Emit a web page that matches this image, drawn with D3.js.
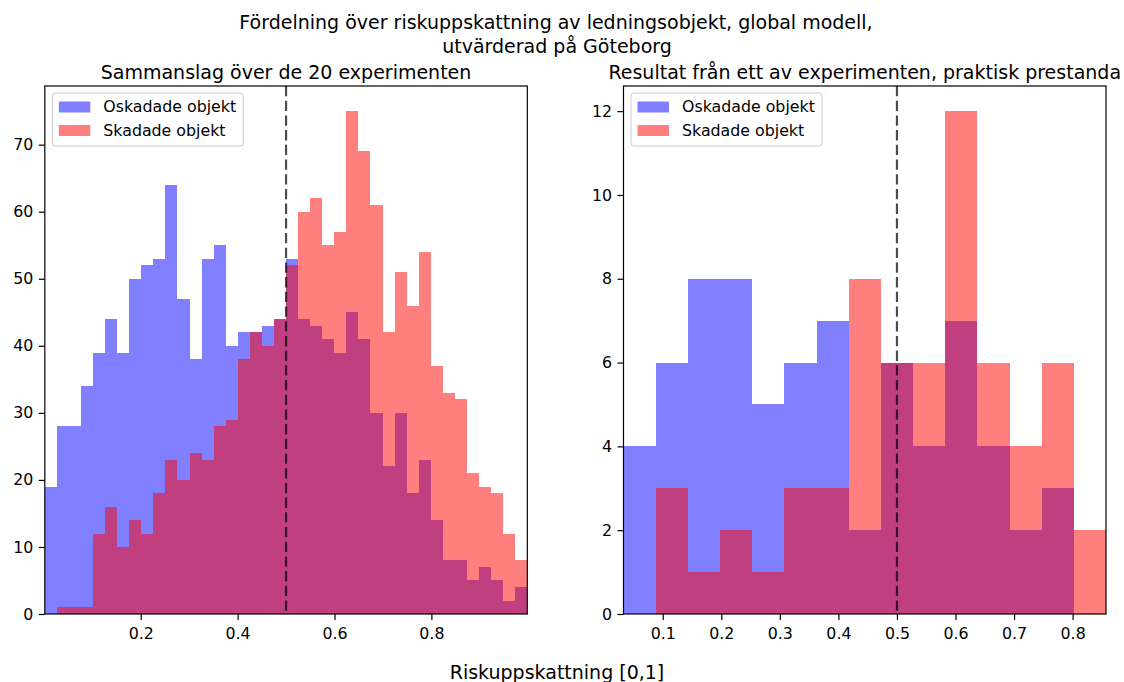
<!DOCTYPE html>
<html>
<head>
<meta charset="utf-8">
<script src="https://cdn.jsdelivr.net/npm/d3@7"></script>
<style>
  body { margin: 0; background: #fff; }
  text { font-family: "DejaVu Sans", sans-serif; fill: #000; }
</style>
</head>
<body>
<svg id="chart" width="1124" height="682"></svg>
<script>
// ---- Data ----
const leftRange = [0.002, 0.998];
const leftBinCount = 40;
const leftUndamaged = [19,28,28,34,39,44,39,50,52,53,64,47,38,53,55,40,42,42,43,44,53,44,43,41,39,45,41,30,22,30,18,23,14,8,8,5,7,5,2,4];
const leftDamaged   = [0,1,1,1,12,16,10,14,12,18,23,20,24,23,28,29,38,42,40,44,52,60,62,55,57,75,69,61,42,51,46,54,37,33,32,21,19,18,12,8];

const rightRange = [0.033, 0.857];
const rightBinCount = 15;
const rightUndamaged = [4,6,8,8,5,6,7,2,6,4,7,4,2,3,0];
const rightDamaged   = [0,3,1,2,1,3,3,8,6,6,12,6,4,6,2];

const leftXTicks = [0.2, 0.4, 0.6, 0.8];
const leftYTicks = [0, 10, 20, 30, 40, 50, 60, 70];
const rightXTicks = [0.1, 0.2, 0.3, 0.4, 0.5, 0.6, 0.7, 0.8];
const rightYTicks = [0, 2, 4, 6, 8, 10, 12];
const leftYMax = 78.75;
const rightYMax = 12.6;
const threshold = 0.5;

const seriesNames = ["Oskadade objekt", "Skadade objekt"];
const seriesColors = ["#0000ff", "#ff0000"];

const suptitle = ["Fördelning över riskuppskattning av ledningsobjekt, global modell,", "utvärderad på Göteborg"];
const leftTitle = "Sammanslag över de 20 experimenten";
const rightTitle = "Resultat från ett av experimenten, praktisk prestanda";
const xLabel = "Riskuppskattning [0,1]";

// ---- Layout ----
const svg = d3.select("#chart");
const axTop = 86, axBottom = 614, axW = 482.5;
const bigFont = "19px", smallFont = "15.8px";

svg.append("text").attr("x", 556).attr("y", 29).attr("text-anchor", "middle")
  .style("font-size", bigFont).text(suptitle[0]);
svg.append("text").attr("x", 557).attr("y", 53).attr("text-anchor", "middle")
  .style("font-size", bigFont).text(suptitle[1]);
svg.append("text").attr("x", 557).attr("y", 679).attr("text-anchor", "middle")
  .style("font-size", bigFont).text(xLabel);

function panel(left, range, binCount, undamaged, damaged, xTicks, yTicks, yMax, title, tickFmt) {
  const x = d3.scaleLinear().domain(range).range([left, left + axW]);
  const y = d3.scaleLinear().domain([0, yMax]).range([axBottom, axTop]);
  const g = svg.append("g");
  const step = (range[1] - range[0]) / binCount;
  const edges = d3.range(binCount + 1).map(i => range[0] + i * step);

  [undamaged, damaged].forEach((vals, si) => {
    g.append("g").selectAll("rect").data(vals).join("rect")
      .attr("x", (d, i) => x(edges[i]))
      .attr("width", (d, i) => x(edges[i + 1]) - x(edges[i]))
      .attr("y", d => y(d))
      .attr("height", d => y(0) - y(d))
      .attr("fill", seriesColors[si])
      .attr("fill-opacity", 0.5)
      .attr("shape-rendering", "crispEdges");
  });

  // threshold line
  g.append("line")
    .attr("x1", x(threshold)).attr("x2", x(threshold))
    .attr("y1", axTop).attr("y2", axBottom)
    .attr("stroke", "#000").attr("stroke-opacity", 0.7)
    .attr("stroke-width", 2.2).attr("stroke-dasharray", "10.3,4.4");

  // axes
  const xa = g.append("g").attr("transform", `translate(0,${axBottom})`)
    .call(d3.axisBottom(x).tickValues(xTicks).tickFormat(tickFmt).tickSizeOuter(0).tickSize(6).tickPadding(8));
  const ya = g.append("g").attr("transform", `translate(${left},0)`)
    .call(d3.axisLeft(y).tickValues(yTicks).tickFormat(d3.format("d")).tickSizeOuter(0).tickSize(6).tickPadding(5.4));
  [xa, ya].forEach(a => {
    a.select(".domain").remove();
    a.selectAll("line").attr("stroke", "#000").attr("stroke-width", 1.2);
    a.selectAll("text").style("font-size", smallFont).attr("fill", "#000");
  });

  // frame
  g.append("rect").attr("x", left).attr("y", axTop).attr("width", axW).attr("height", axBottom - axTop)
    .attr("fill", "none").attr("stroke", "#000").attr("stroke-width", 1.2);

  g.append("text").attr("x", left + axW / 2).attr("y", axTop - 7.5).attr("text-anchor", "middle")
    .style("font-size", bigFont).text(title);

  // legend
  const lg = g.append("g").attr("transform", `translate(${left + 7.5},${axTop + 7})`);
  lg.append("rect").attr("width", 191).attr("height", 53).attr("rx", 3)
    .attr("fill", "#fff").attr("fill-opacity", 0.8).attr("stroke", "#cccccc").attr("stroke-width", 1);
  seriesNames.forEach((n, i) => {
    lg.append("rect").attr("x", 6.5).attr("y", 8.5 + i * 23.5).attr("width", 31.5).attr("height", 11)
      .attr("fill", seriesColors[i]).attr("fill-opacity", 0.5);
    lg.append("text").attr("x", 51).attr("y", 13.5 + i * 23.5).attr("dy", "0.35em")
      .style("font-size", smallFont).text(n);
  });
}

panel(44.8, leftRange, leftBinCount, leftUndamaged, leftDamaged, leftXTicks, leftYTicks, leftYMax, leftTitle, d3.format(".1f"));
panel(623.5, rightRange, rightBinCount, rightUndamaged, rightDamaged, rightXTicks, rightYTicks, rightYMax, rightTitle, d3.format(".1f"));
</script>
</body>
</html>
